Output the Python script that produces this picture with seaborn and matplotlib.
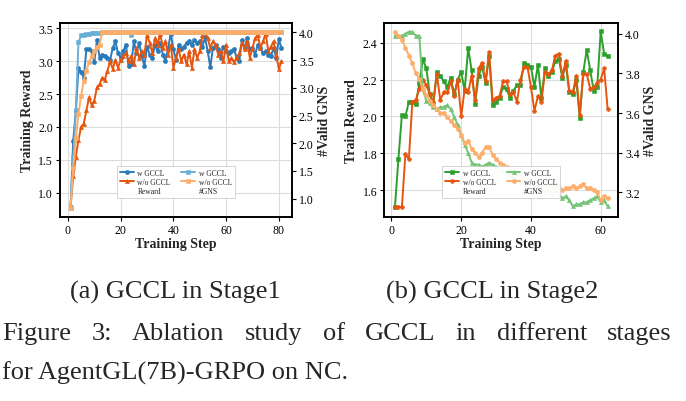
import matplotlib
matplotlib.use("Agg")

import matplotlib.pyplot as plt
import numpy as np
import seaborn as sns
from matplotlib.lines import Line2D
from matplotlib.ticker import MultipleLocator

# ── Data: stage 1 (81 training steps) ─────────────────────────────────
steps_s1 = np.arange(1, 82)

reward_w_s1 = [
    0.78, 1.79, 2.24, 2.89, 2.83, 2.75, 3.18, 3.18, 3.15, 2.98,
    3.32, 3.05, 3.10, 3.08, 3.05, 3.02, 3.20, 3.30, 3.12, 3.05,
    3.15, 3.25, 2.92, 2.95, 3.30, 3.12, 3.28, 3.08, 2.93, 3.22,
    3.10, 3.05, 3.25, 3.15, 3.28, 3.10, 3.00, 3.20, 3.42, 3.18,
    3.02, 3.25, 3.18, 3.22, 3.28, 3.30, 3.25, 3.32, 3.28, 3.30,
    3.22, 3.36, 3.15, 2.91, 3.20, 3.25, 3.18, 3.05, 3.22, 3.15,
    3.12, 3.15, 3.18, 3.05, 3.00, 3.32, 3.20, 3.35, 3.18, 3.20,
    3.10, 3.25, 3.20, 3.12, 3.15, 3.10, 3.08, 3.20, 3.05, 3.33,
    3.20,
]
reward_wo_s1 = [
    0.78, 1.25, 1.55, 1.80, 2.00, 2.05, 2.25, 2.45, 2.33, 2.40,
    2.60, 2.65, 2.75, 2.72, 2.85, 3.00, 2.88, 3.02, 2.90, 3.02,
    3.08, 3.12, 3.00, 3.08, 2.95, 3.20, 3.05, 3.15, 3.10, 3.40,
    3.28, 3.12, 3.35, 3.25, 3.42, 3.20, 3.30, 3.10, 3.25, 2.90,
    3.05, 3.18, 3.00, 3.10, 2.95, 3.15, 2.90, 3.18, 3.05, 3.15,
    3.40, 3.45, 3.35, 3.20, 3.30, 3.25, 3.10, 3.15, 3.00, 3.25,
    3.00, 3.05, 2.98, 3.05, 3.12, 3.28, 3.18, 3.30, 3.05, 3.20,
    3.35, 3.40, 3.20, 3.30, 3.42, 3.15, 3.22, 3.30, 3.10, 2.88,
    3.00,
]
gns_w_s1 = [
    0.84, 1.75, 2.60, 3.82, 3.95, 3.96, 3.97, 3.98, 3.99, 3.99,
    3.99, 3.99, 4.00, 4.00, 4.00, 4.00, 4.00, 4.00, 4.00, 4.00,
    4.00, 4.00, 4.00, 3.96, 4.00, 4.00, 4.00, 4.00, 4.00, 4.00,
    4.00, 4.00, 4.00, 4.00, 4.00, 4.00, 4.00, 4.00, 4.00, 4.00,
    4.00, 4.00, 4.00, 4.00, 4.00, 4.00, 4.00, 4.00, 4.00, 4.00,
    4.00, 4.00, 4.00, 4.00, 4.00, 4.00, 4.00, 4.00, 4.00, 4.00,
    4.00, 4.00, 4.00, 4.00, 4.00, 4.00, 4.00, 4.00, 4.00, 4.00,
    4.00, 4.00, 4.00, 4.00, 4.00, 4.00, 4.00, 4.00, 4.00, 4.00,
    4.00,
]
gns_wo_s1 = [
    0.84, 1.55, 2.09, 2.53, 2.86, 3.13, 3.31, 3.46, 3.57, 3.66,
    3.73, 3.78, 4.00, 4.00, 4.00, 4.00, 4.00, 4.00, 4.00, 4.00,
    4.00, 4.00, 4.00, 4.00, 4.00, 4.00, 4.00, 4.00, 4.00, 4.00,
    4.00, 4.00, 4.00, 4.00, 4.00, 4.00, 4.00, 4.00, 4.00, 4.00,
    4.00, 4.00, 4.00, 4.00, 4.00, 4.00, 4.00, 4.00, 4.00, 4.00,
    4.00, 4.00, 4.00, 4.00, 4.00, 4.00, 4.00, 4.00, 4.00, 4.00,
    4.00, 4.00, 4.00, 4.00, 4.00, 4.00, 4.00, 4.00, 4.00, 4.00,
    4.00, 4.00, 4.00, 4.00, 4.00, 4.00, 4.00, 4.00, 4.00, 4.00,
    4.00,
]

# ── Data: stage 2 (62 training steps) ─────────────────────────────────
steps_s2 = np.arange(1, 63)

reward_w_s2 = [
    1.51, 1.77, 2.01, 2.00, 2.08, 2.08, 2.07, 2.18, 2.31, 2.26,
    2.12, 2.06, 2.24, 2.22, 2.19, 2.16, 2.21, 2.12, 2.20, 2.24,
    2.14, 2.37, 2.25, 2.07, 2.22, 2.27, 2.18, 2.33, 2.06, 2.08,
    2.10, 2.16, 2.15, 2.10, 2.14, 2.17, 2.17, 2.29, 2.28, 2.27,
    2.16, 2.28, 2.10, 2.26, 2.22, 2.24, 2.30, 2.31, 2.21, 2.28,
    2.13, 2.12, 2.20, 1.99, 2.24, 2.36, 2.25, 2.14, 2.16, 2.46,
    2.34, 2.33,
]
reward_wo_s2 = [
    1.51, 1.51, 1.51, 1.795, 1.77, 2.08, 2.09, 2.15, 2.20, 2.17,
    2.12, 2.08, 2.23, 2.09, 2.13, 2.13, 2.19, 2.11, 2.20, 2.00,
    2.15, 2.13, 2.22, 2.09, 2.26, 2.29, 2.19, 2.35, 2.09, 2.10,
    2.11, 2.19, 2.19, 2.12, 2.13, 2.08, 2.20, 2.27, 2.27, 2.16,
    2.03, 2.11, 2.08, 2.24, 2.23, 2.25, 2.33, 2.34, 2.22, 2.30,
    2.14, 2.13, 2.22, 2.01, 2.23, 2.23, 2.15, 2.16, 2.18, 2.20,
    2.26, 2.04,
]
gns_w_s2 = [
    3.99, 3.99, 3.99, 4.00, 4.01, 4.01, 3.99, 3.99, 3.72, 3.66,
    3.65, 3.63, 3.62, 3.63, 3.63, 3.64, 3.62, 3.58, 3.54, 3.49,
    3.44, 3.40, 3.35, 3.34, 3.34, 3.33, 3.34, 3.35, 3.34, 3.33,
    3.32, 3.31, 3.30, 3.29, 3.28, 3.27, 3.26, 3.25, 3.25, 3.24,
    3.23, 3.22, 3.21, 3.20, 3.21, 3.19, 3.21, 3.19, 3.17, 3.18,
    3.16, 3.13, 3.14, 3.14, 3.15, 3.15, 3.16, 3.17, 3.18, 3.15,
    3.16, 3.13,
]
gns_wo_s2 = [
    4.01, 3.99, 3.97, 3.93, 3.89, 3.85, 3.80, 3.77, 3.72, 3.69,
    3.66, 3.64, 3.62, 3.60, 3.60, 3.58, 3.56, 3.54, 3.52, 3.49,
    3.45, 3.46, 3.42, 3.40, 3.38, 3.40, 3.43, 3.43, 3.39, 3.37,
    3.35, 3.34, 3.33, 3.31, 3.30, 3.29, 3.28, 3.27, 3.26, 3.25,
    3.25, 3.24, 3.24, 3.23, 3.23, 3.22, 3.23, 3.22, 3.21, 3.22,
    3.22, 3.23, 3.22, 3.23, 3.24, 3.22, 3.22, 3.21, 3.20, 3.16,
    3.18, 3.17,
]

series_labels = ["w GCCL", "w/o GCCL"]
subcaptions = ["(a) GCCL in Stage1", "(b) GCCL in Stage2"]
caption_line1 = "Figure 3: Ablation study of GCCL in different stages"
caption_line2 = "for AgentGL(7B)-GRPO on NC."

# ── Style ─────────────────────────────────────────────────────────────
sns.set_theme(style="whitegrid", rc={
    "axes.edgecolor": "black",
    "axes.linewidth": 1.2,
    "grid.color": "#dcdcdc",
    "grid.linewidth": 0.8,
    "xtick.bottom": True,
    "ytick.left": True,
    "xtick.major.size": 3,
    "ytick.major.size": 3,
    "xtick.major.width": 0.8,
    "ytick.major.width": 0.8,
    "xtick.major.pad": 2,
    "ytick.major.pad": 2,
    "xtick.color": "black",
    "ytick.color": "black",
    "xtick.labelsize": 8.5,
    "ytick.labelsize": 8.5,
})
plt.rcParams["font.family"] = ["Liberation Serif", "DejaVu Serif"]


def draw_line(ax, x, y, color, marker):
    sns.lineplot(x=x, y=y, ax=ax, color=color, marker=marker, markersize=3,
                 markeredgecolor=color, markeredgewidth=0.4, linewidth=1.4,
                 legend=False)
    return ax.lines[-1]


def draw_panel(fig, rect, steps, r_w, r_wo, g_w, g_wo, colors, markers,
               ylabel, xlim, ylim_l, ylim_r, step_l, step_r, xstep):
    ax = fig.add_axes(rect)
    ax2 = ax.twinx()
    h1 = draw_line(ax, steps, r_w, colors[0], markers[0])
    h2 = draw_line(ax, steps, r_wo, colors[1], markers[1])
    h3 = draw_line(ax2, steps, g_w, colors[2], markers[2])
    h4 = draw_line(ax2, steps, g_wo, colors[3], markers[3])

    ax.set_xlim(*xlim)
    ax.set_ylim(*ylim_l)
    ax2.set_ylim(*ylim_r)
    ax.xaxis.set_major_locator(MultipleLocator(xstep))
    ax.yaxis.set_major_locator(MultipleLocator(step_l))
    ax2.yaxis.set_major_locator(MultipleLocator(step_r))
    ax2.grid(False)
    ax2.tick_params(axis="y", right=True, length=3, width=0.8, labelsize=8.5,
                    color="black", pad=2)
    for a in (ax, ax2):
        for s in a.spines.values():
            s.set_color("black")
            s.set_linewidth(1.2)

    ax.set_xlabel("Training Step", fontsize=10, fontweight="bold", labelpad=1)
    ax.set_ylabel(ylabel, fontsize=10, fontweight="bold", labelpad=3)
    ax2.set_ylabel("#Valid GNS", fontsize=10, fontweight="bold", labelpad=3)

    blank = Line2D([], [], linestyle="none", marker=None)
    handles = [h1, h2, blank, h3, h4, blank]
    labels = series_labels + ["Reward"] + series_labels + ["#GNS"]
    leg = ax2.legend(handles, labels, ncol=2, loc="lower center",
                     bbox_to_anchor=(0.5, 0.1), borderaxespad=0, fontsize=5.5,
                     handlelength=1.8, handletextpad=0.5, labelspacing=0.15,
                     columnspacing=1.4, borderpad=0.35, framealpha=0.95,
                     fancybox=False, edgecolor="#cccccc")
    leg.get_frame().set_linewidth(0.6)
    return ax, ax2


fig = plt.figure(figsize=(6.86, 4.02), dpi=100)

draw_panel(fig, [0.0875, 0.4577, 0.3382, 0.4826], steps_s1,
           reward_w_s1, reward_wo_s1, gns_w_s1, gns_wo_s1,
           ["#2a7ab9", "#e6550d", "#6baed6", "#fdae6b"],
           ["o", "^", "s", "s"],
           "Training Reward", (-3, 85), (0.63, 3.58), (0.67, 4.17),
           0.5, 0.5, 20)

draw_panel(fig, [0.5602, 0.4577, 0.3411, 0.4826], steps_s2,
           reward_w_s2, reward_wo_s2, gns_w_s2, gns_wo_s2,
           ["#2ca02c", "#e6550d", "#74c476", "#fdae6b"],
           ["s", "P", "^", "o"],
           "Train Reward", (-2.05, 65.05), (1.456, 2.506), (3.076, 4.054),
           0.2, 0.2, 20)

# ── Captions ──────────────────────────────────────────────────────────
fig.text(175 / 686, 1 - 299 / 402, subcaptions[0], fontsize=19,
         ha="center", va="baseline")
fig.text(492 / 686, 1 - 299 / 402, subcaptions[1], fontsize=19,
         ha="center", va="baseline")


def justified_line(text, x0, x1, y, size):
    words = text.split()
    texts = [fig.text(x0, y, w, fontsize=size, va="baseline") for w in words]
    fig.canvas.draw()
    r = fig.canvas.get_renderer()
    widths = [t.get_window_extent(r).width / fig.bbox.width for t in texts]
    gap = (x1 - x0 - sum(widths)) / (len(words) - 1)
    x = x0
    for t, w in zip(texts, widths):
        t.set_x(x)
        x += w + gap


justified_line(caption_line1, 2 / 686, 672 / 686, 1 - 340 / 402, 19)
fig.text(2 / 686, 1 - 380 / 402, caption_line2, fontsize=19, va="baseline")

fig.savefig("out.png", dpi=100)
